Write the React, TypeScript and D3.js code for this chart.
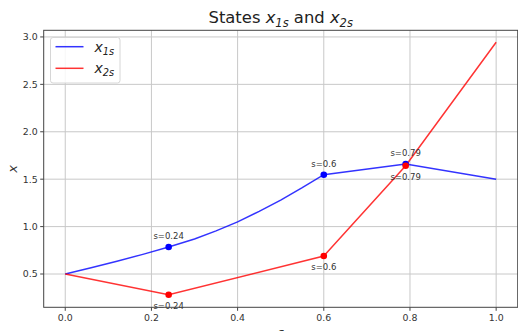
import React from "react";
import * as d3 from "d3";

// Trajectory samples along s
const sBlue = [0, 0.06, 0.12, 0.18, 0.24, 0.3, 0.35, 0.4, 0.45, 0.5, 0.55, 0.6, 0.79, 1.0];
const x1Values = [0.5, 0.565, 0.634, 0.707, 0.785, 0.87, 0.955, 1.05, 1.16, 1.28, 1.41, 1.547, 1.66, 1.5];
const sRed = [0, 0.24, 0.6, 0.79, 1.0];
const x2Values = [0.5, 0.282, 0.69, 1.642, 2.944];

// Switching points that get a marker and a label
const markS = [0.24, 0.6, 0.79];
const markLabels = ["s=0.24", "s=0.6", "s=0.79"];

const xTicks = [0.0, 0.2, 0.4, 0.6, 0.8, 1.0];
const yTicks = [0.5, 1.0, 1.5, 2.0, 2.5, 3.0];

const W = 518;
const H = 331;
const plot = { left: 43.7, right: 517.7, top: 30.3, bottom: 307.3 };
const FONT = "'DejaVu Sans', sans-serif";
const TEXT = "#333";
const BLUE = "rgba(0,0,255,0.8)";
const RED = "rgba(255,0,0,0.8)";

function valueAt(ss: number[], vs: number[], s: number) {
  const i = ss.findIndex((v) => Math.abs(v - s) < 1e-9);
  return vs[i];
}

export default function App() {
  const x = d3.scaleLinear().domain([-0.05, 1.05]).range([plot.left, plot.right]);
  const y = d3.scaleLinear().domain([0.149, 3.07]).range([plot.bottom, plot.top]);

  const blueLine = d3
    .line<number>()
    .x((_, i) => x(sBlue[i]))
    .y((d) => y(d))(x1Values) as string;
  const redLine = d3
    .line<number>()
    .x((_, i) => x(sRed[i]))
    .y((d) => y(d))(x2Values) as string;

  const blueMarks = markS.map((s) => ({ s, v: valueAt(sBlue, x1Values, s) }));
  const redMarks = markS.map((s) => ({ s, v: valueAt(sRed, x2Values, s) }));

  const ts = 16.4;
  const ls = 14;

  return (
    <svg
      width={W}
      height={H}
      style={{ position: "absolute", left: 0, top: 0, background: "#fff" }}
      fontFamily={FONT}
    >
      <rect x={0} y={0} width={W} height={H} fill="#fff" />

      {/* grid */}
      <g stroke="#c8c8c8" strokeWidth={1}>
        {xTicks.map((t) => (
          <line key={"gx" + t} x1={x(t)} x2={x(t)} y1={plot.top} y2={plot.bottom} />
        ))}
        {yTicks.map((t) => (
          <line key={"gy" + t} x1={plot.left} x2={plot.right} y1={y(t)} y2={y(t)} />
        ))}
      </g>

      {/* series */}
      <path d={blueLine} fill="none" stroke={BLUE} strokeWidth={1.5} />
      <path d={redLine} fill="none" stroke={RED} strokeWidth={1.5} />

      {blueMarks.map((m) => (
        <circle key={"bm" + m.s} cx={x(m.s)} cy={y(m.v)} r={3.3} fill="#0000ff" />
      ))}
      {redMarks.map((m) => (
        <circle key={"rm" + m.s} cx={x(m.s)} cy={y(m.v)} r={3.3} fill="#ff0000" />
      ))}

      {/* annotations */}
      <g fontSize={8.5} fill={TEXT} textAnchor="middle">
        {blueMarks.map((m, i) => (
          <text key={"bl" + m.s} x={x(m.s)} y={y(m.v) - 8}>
            {markLabels[i]}
          </text>
        ))}
        {redMarks.map((m, i) => (
          <text key={"rl" + m.s} x={x(m.s)} y={y(m.v) + 14}>
            {markLabels[i]}
          </text>
        ))}
      </g>

      {/* spines */}
      <rect
        x={plot.left}
        y={plot.top}
        width={plot.right - plot.left}
        height={plot.bottom - plot.top}
        fill="none"
        stroke="#444"
        strokeWidth={1}
      />

      {/* x axis */}
      <g fontSize={9.4} fill={TEXT} textAnchor="middle">
        {xTicks.map((t) => (
          <g key={"xt" + t}>
            <line x1={x(t)} x2={x(t)} y1={plot.bottom} y2={plot.bottom + 3.5} stroke="#444" />
            <text x={x(t)} y={plot.bottom + 13.5}>
              {d3.format(".1f")(t)}
            </text>
          </g>
        ))}
      </g>
      <text x={(plot.left + plot.right) / 2} y={337} fontSize={13} fill={TEXT} textAnchor="middle" fontStyle="italic">
        s
      </text>

      {/* y axis */}
      <g fontSize={9.4} fill={TEXT} textAnchor="end">
        {yTicks.map((t) => (
          <g key={"yt" + t}>
            <line x1={plot.left - 3.5} x2={plot.left} y1={y(t)} y2={y(t)} stroke="#444" />
            <text x={plot.left - 6} y={y(t) + 3.4}>
              {d3.format(".1f")(t)}
            </text>
          </g>
        ))}
      </g>
      <text
        transform={`translate(16.5,${(plot.top + plot.bottom) / 2}) rotate(-90)`}
        fontSize={13}
        fill={TEXT}
        textAnchor="middle"
        fontStyle="italic"
      >
        x
      </text>

      {/* title */}
      <text x={(plot.left + plot.right) / 2} y={23} fontSize={ts} fill="#222" textAnchor="middle">
        <tspan>States </tspan>
        <tspan fontStyle="italic">x</tspan>
        <tspan fontStyle="italic" fontSize={ts * 0.7} dy={ts * 0.22}>1s</tspan>
        <tspan dy={-ts * 0.22}> and </tspan>
        <tspan fontStyle="italic">x</tspan>
        <tspan fontStyle="italic" fontSize={ts * 0.7} dy={ts * 0.22}>2s</tspan>
      </text>

      {/* legend */}
      <g>
        <rect x={50.5} y={37.5} width={69.5} height={45.5} rx={2.5} fill="rgba(255,255,255,0.85)" stroke="#d6d6d6" />
        <line x1={55.5} x2={83.5} y1={46.7} y2={46.7} stroke={BLUE} strokeWidth={1.5} />
        <line x1={55.5} x2={83.5} y1={68.3} y2={68.3} stroke={RED} strokeWidth={1.5} />
        <text x={94.5} y={51.5} fontSize={ls} fill="#222" fontStyle="italic">
          <tspan>x</tspan>
          <tspan fontSize={ls * 0.7} dy={ls * 0.22}>1s</tspan>
        </text>
        <text x={94.5} y={73} fontSize={ls} fill="#222" fontStyle="italic">
          <tspan>x</tspan>
          <tspan fontSize={ls * 0.7} dy={ls * 0.22}>2s</tspan>
        </text>
      </g>
    </svg>
  );
}
